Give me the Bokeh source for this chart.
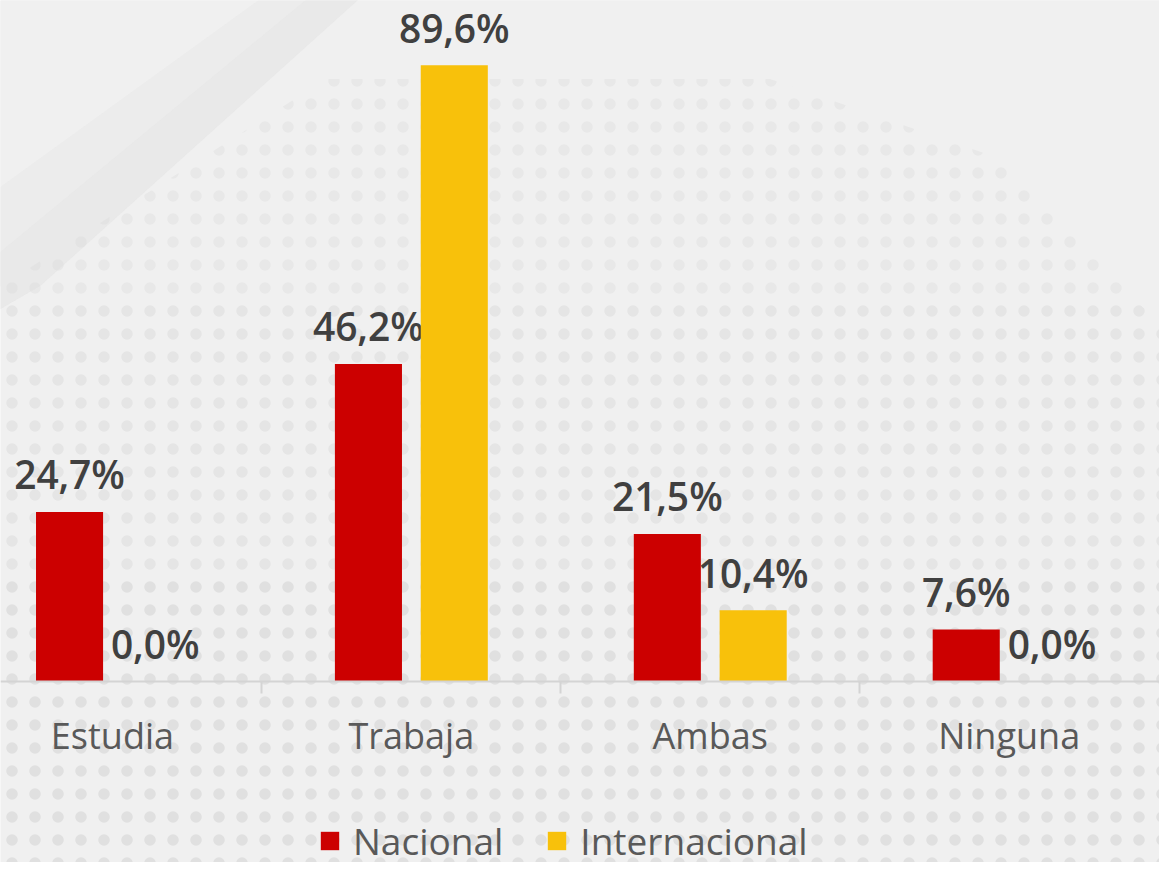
import numpy as np
from bokeh.plotting import figure
from bokeh.models import (Range1d, LinearAxis, FixedTicker, BoxAnnotation, Legend,
                          LegendItem, ColumnDataSource, PolyAnnotation)
from bokeh.core.properties import value
from bokeh.embed import file_html
from bokeh.resources import INLINE

# ---- data ----
categories = ["Estudia", "Trabaja", "Ambas", "Ninguna"]
nacional = [24.7, 46.2, 21.5, 7.6]
internacional = [0.0, 89.6, 10.4, 0.0]
series_names = ["Nacional", "Internacional"]
series_colors = ["#cc0000", "#f8c10b"]


def fmt(v):
    return f"{v:.1f}%".replace(".", ",")


W, H = 1159, 862
FONT = "Open Sans"
BG = "#f0f0f0"

p = figure(width=W, height=H, output_backend="svg", toolbar_location=None,
           x_range=Range1d(-0.3746, 3.503), y_range=Range1d(-26.25, 99.02),
           min_border=0, background_fill_color=BG, border_fill_color=BG,
           outline_line_color=None, x_axis_type=None, y_axis_type=None)

# ---- decorative background: faint dot texture growing towards the bottom ----
for top, bottom, weight, color in ((None, 55, 0.6, "#e8e8e8"),
                                   (55, 15, 0.9, "#e5e5e5"),
                                   (15, None, 1.4, "#e0e0e0")):
    kw = {}
    if top is not None:
        kw["top"] = top
    if bottom is not None:
        kw["bottom"] = bottom
    p.add_layout(BoxAnnotation(fill_color=None, line_color=None, hatch_pattern="dot",
                               hatch_color=color, hatch_scale=23, hatch_weight=weight,
                               level="underlay", **kw))

# plain (dot-free) light area at the top
p.add_layout(PolyAnnotation(
    xs=[-0.5, 3.6, 3.6, 2.9587, 2.1996, 0.7145, -0.5],
    ys=[101, 101, 47.65, 76.19, 87.60, 87.60, 54.0],
    fill_color=BG, fill_alpha=1, line_color=None, level="underlay"))
# soft darker diagonal sheen at the top-left
for xs, ys, alpha in (([0.55, 0.87, -0.24, -0.5, -0.5], [101, 101, 57.6, 51.0, 68.0], 0.2),
                      ([0.70, 0.87, -0.24, -0.5, -0.5], [101, 101, 57.6, 51.0, 58.0], 0.25)):
    p.add_layout(PolyAnnotation(xs=xs, ys=ys, fill_color="#dedede", fill_alpha=alpha,
                                line_color=None, level="underlay"))

idx = np.arange(len(categories))
offset, bw = 0.1436, 0.2244
src = ColumnDataSource(dict(
    x_nac=idx - offset, x_int=idx + offset,
    nac=nacional, inter=internacional,
    lab_nac=[fmt(v) for v in nacional], lab_int=[fmt(v) for v in internacional],
))

LABEL_KW = dict(text_align="center", text_baseline="alphabetic", y_offset=-38,
                text_font=value("Open Sans SemiBold"), text_font_size="39px",
                text_color="#404040")

r1 = p.vbar(x="x_nac", top="nac", width=bw, source=src,
            fill_color=series_colors[0], line_color=None)
p.text(x="x_nac", y="nac", text="lab_nac", source=src, **LABEL_KW)
r2 = p.vbar(x="x_int", top="inter", width=bw, source=src,
            fill_color=series_colors[1], line_color=None)
p.text(x="x_int", y="inter", text="lab_int", source=src, **LABEL_KW)

# axis line with category separators
sep_axis = LinearAxis(fixed_location=0,
                      ticker=FixedTicker(ticks=[float(i) + 0.5 for i in idx[:-1]]),
                      axis_line_color="#d4d4d4", axis_line_width=2,
                      major_tick_line_color="#d4d4d4", major_tick_line_width=2,
                      major_tick_in=0, major_tick_out=12,
                      minor_tick_line_color=None, major_label_text_color=None)
p.add_layout(sep_axis, "below")

label_axis = LinearAxis(fixed_location=0,
                        ticker=FixedTicker(ticks=[float(i) for i in idx]),
                        major_label_overrides={int(i): c for i, c in zip(idx, categories)},
                        axis_line_color=None, major_tick_line_color=None,
                        minor_tick_line_color=None, major_tick_out=0, major_tick_in=0,
                        major_label_standoff=29, major_label_text_font=FONT,
                        major_label_text_font_size="36px",
                        major_label_text_color="#595959")
p.add_layout(label_axis, "below")

legend = Legend(items=[LegendItem(label=series_names[0], renderers=[r1]),
                       LegendItem(label=series_names[1], renderers=[r2])],
                orientation="horizontal", location=(318, -4),
                glyph_width=23, glyph_height=23, label_standoff=12, spacing=42,
                padding=0, margin=0, background_fill_alpha=0, border_line_color=None,
                label_text_font=FONT, label_text_font_size="37px",
                label_text_color="#595959")
p.add_layout(legend)

open("out.html", "w").write(file_html(p, INLINE))
